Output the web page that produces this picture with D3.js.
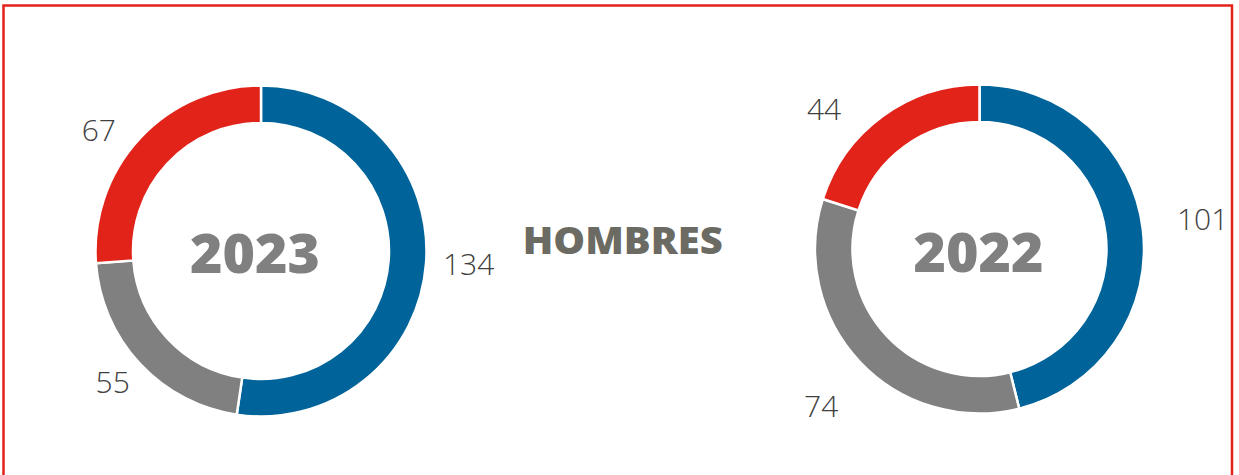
<!DOCTYPE html>
<html>
<head>
<meta charset="utf-8">
<script src="https://cdn.jsdelivr.net/npm/d3@7"></script>
<style>
  html, body { margin: 0; padding: 0; background: #ffffff; }
  svg { display: block; }
</style>
</head>
<body>
<svg id="chart" width="1239" height="475"></svg>
<script>
// Segment categories, in drawing order (clockwise from 12 o'clock)
const categories = ["A", "B", "C"];
const colors = ["#006399", "#808080", "#e2231a"];

// Values per year
const years = ["2023", "2022"];
const values2023 = [134, 55, 67];
const values2022 = [101, 74, 44];
const title = "HOMBRES";

const svg = d3.select("#chart");

// Outer frame
svg.append("rect")
  .attr("x", 3.5).attr("y", 5.5)
  .attr("width", 1228.5).attr("height", 480)
  .attr("fill", "none")
  .attr("stroke", "#e3221c")
  .attr("stroke-width", 2.5);

const color = d3.scaleOrdinal().domain(categories).range(colors);
const pie = d3.pie().sort(null).value(d => d.value);
const DEG = Math.PI / 180;

// Ring geometry and label placement (radius and angular nudge per label)
const donuts = [
  { year: years[0], values: values2023, cx: 261, cy: 251, outer: 165.5, inner: 128,
    labelR: [208, 198, 202], labelShift: [-0.6, 1.4, -6.3], yearDx: -6, yearBase: 21.5 },
  { year: years[1], values: values2022, cx: 979.5, cy: 249, outer: 164.5, inner: 127,
    labelR: [225, 223, 209], labelShift: [-0.5, -1.6, -11.9], yearDx: -1, yearBase: 23 }
];

const valueSize = 30;
const capRatio = 0.714;

donuts.forEach(cfg => {
  const data = categories.map((c, i) => ({ cat: c, value: cfg.values[i] }));
  const arcs = pie(data);
  const arc = d3.arc().innerRadius(cfg.inner).outerRadius(cfg.outer);
  const g = svg.append("g").attr("transform", `translate(${cfg.cx},${cfg.cy})`);

  g.selectAll("path.slice")
    .data(arcs)
    .join("path")
    .attr("class", "slice")
    .attr("d", arc)
    .attr("fill", d => color(d.data.cat))
    .attr("stroke", "#ffffff")
    .attr("stroke-width", 2.5);

  const labelAngle = (d, i) => (d.startAngle + d.endAngle) / 2 + cfg.labelShift[i] * DEG;

  // Value labels outside the ring
  g.selectAll("text.val")
    .data(arcs)
    .join("text")
    .attr("class", "val")
    .attr("x", (d, i) => Math.sin(labelAngle(d, i)) * cfg.labelR[i])
    .attr("y", (d, i) => -Math.cos(labelAngle(d, i)) * cfg.labelR[i] + valueSize * capRatio / 2)
    .attr("text-anchor", "middle")
    .attr("font-family", "'Open Sans', sans-serif")
    .attr("font-weight", 300)
    .attr("font-size", valueSize)
    .attr("fill", "#404040")
    .text(d => d.data.value);

  // Year in the centre
  g.append("text")
    .attr("x", cfg.yearDx).attr("y", cfg.yearBase)
    .attr("text-anchor", "middle")
    .attr("font-family", "'Open Sans', sans-serif")
    .attr("font-weight", 800)
    .attr("font-size", 54)
    .attr("fill", "#808080")
    .attr("textLength", 130)
    .attr("lengthAdjust", "spacingAndGlyphs")
    .text(cfg.year);
});

// Centre title
svg.append("text")
  .attr("x", 622.7).attr("y", 253.5)
  .attr("text-anchor", "middle")
  .attr("font-family", "'Open Sans', sans-serif")
  .attr("font-weight", 800)
  .attr("font-size", 36.5)
  .attr("fill", "#6b6b63")
  .attr("textLength", 200)
  .attr("lengthAdjust", "spacingAndGlyphs")
  .text(title);
</script>
</body>
</html>
